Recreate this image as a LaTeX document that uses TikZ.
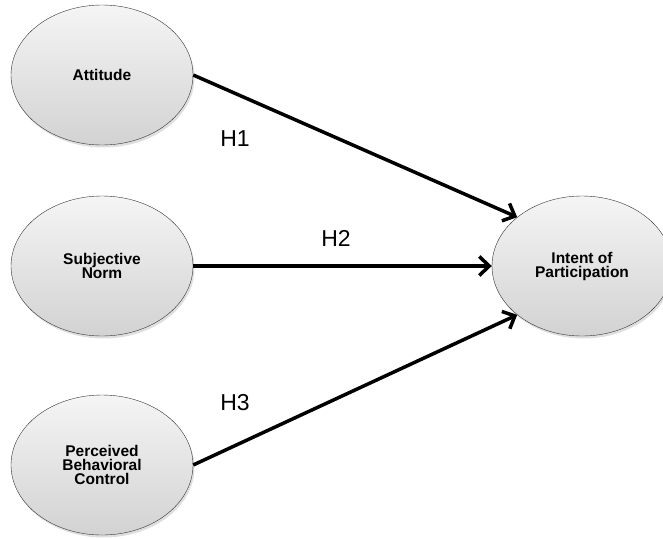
\documentclass[tikz,border=0pt]{standalone}
\usepackage{fontspec}
\setmainfont{Liberation Sans}
\usetikzlibrary{shapes.geometric,arrows.meta,shadows}
\tikzset{
  construct/.style={ellipse, draw=black!80, thin, minimum width=182pt, minimum height=140pt,
    inner sep=0pt, top color=gray!8, bottom color=gray!35, align=center,
    font=\fontsize{15.5}{14}\selectfont\bfseries,
    drop shadow={opacity=0.25, shadow xshift=1.5pt, shadow yshift=-2.5pt}},
  hyp/.style={font=\fontsize{23}{26}\selectfont},
  path/.style={line width=3.5pt, -{Straight Barb[length=10pt,width=19pt,line width=3.5pt]}}
}
\begin{document}
\begin{tikzpicture}[x=1pt, y=-1pt]
			\useasboundingbox (0,0) rectangle (663,538);
			\node[construct] (att) at (102,75) {Attitude};
			\node[construct] (subj) at (102,266) {Subjective\\Norm};
			\node[construct] (pbc) at (102,465) {Perceived\\Behavioral\\Control};
			\node[construct, minimum width=180pt] (intent) at (582,266) {Intent of\\Participation};
			\foreach \src/\ang in {att/143,subj/180,pbc/217}{
				\draw[path] (\src.east) -- (intent.\ang);
			}
			\node[hyp] (h1) at (235,139) {H1};
			\node[hyp] (h2) at (336,238) {H2};
			\node[hyp] (h3) at (235,403) {H3};
		\end{tikzpicture}
\end{document}
